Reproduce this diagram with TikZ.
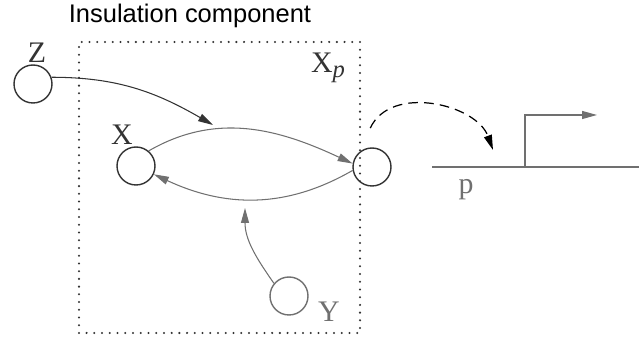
\documentclass[tikz,border=0pt]{standalone}
\usepackage{fontspec}
\setmainfont{Liberation Serif}
\setsansfont{Liberation Sans}
\usetikzlibrary{arrows.meta}
\definecolor{insgray}{HTML}{707070}
\definecolor{insdark}{HTML}{333333}

\begin{document}
\begin{tikzpicture}[x=0.02cm, y=0.02cm,
    site/.style={draw=insdark, line width=0.8pt, circle, minimum size=0.76cm, inner sep=0pt},
    lbl/.style={font=\fontsize{17}{17}\selectfont, inner sep=0pt},
    link/.style={line width=0.6pt, -{Triangle[length=0.3cm, width=0.16cm]}},
    gene/.style={draw=insgray, line width=0.7pt}
  ]
  \useasboundingbox (0,0) rectangle (639,337);

  % Insulation box
  \draw[insdark, line width=1.3pt, line cap=round, dash pattern=on 0pt off 4.4pt] (79,4) rectangle (360,295);
  \node[font=\sffamily\fontsize{14.5}{14.5}\selectfont, text=black] (title) at (190,321) {Insulation component};

  % Sites
  \node[site] (z) at (33,253) {};
  \node[lbl, text=insdark] (zlbl) at (37,284) {Z};
  \node[site] (x) at (136,171) {};
  \node[lbl, text=insdark] (xlbl) at (122,202) {X};
  \node[site] (xp) at (372,170) {};
  \node[lbl, text=insdark] (xplbl) at (328,269) {X\raisebox{-0.4ex}{\fontsize{14}{14}\selectfont\itshape p}};
  \node[site, draw=insgray] (y) at (289,41) {};
  \node[lbl, text=insgray] (ylbl) at (329,25) {Y};

  % Free ends
  \coordinate (zend) at (213,212);
  \coordinate (yend) at (245,129);
  \coordinate (dend) at (493,187);

  % Gene
  \coordinate (gs) at (432,170);
  \coordinate (ge) at (639,170);
  \coordinate (pb) at (525,170);
  \coordinate (pt) at (525,222);
  \coordinate (pe) at (597,222);
  \draw[gene] (gs) -- (ge);
  \draw[gene, -{Triangle[length=0.3cm, width=0.16cm]}] (pb) -- (pt) -- (pe);
  \node[lbl, text=insgray] (plbl) at (466,147) {p};

  % Interactions
  \draw[link, insdark] (z.20) to[out=0, in=150] (zend);
  \draw[link, insgray] (x.50) to[out=30, in=155] (xp.170);
  \draw[link, insgray] (xp.190) to[out=-150, in=-25] (x.-25);
  \draw[link, insgray] (y.140) to[out=125, in=-90] (yend);
  \draw[link, black, line width=0.7pt, dash pattern=on 5.5pt off 3.5pt] ([yshift=11]xp.95) to[out=65, in=110] (dend);
\end{tikzpicture}
\end{document}
